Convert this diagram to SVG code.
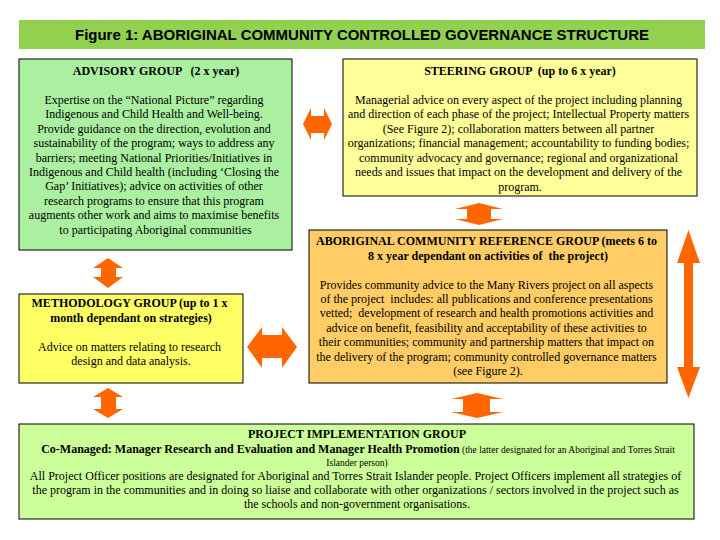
<svg xmlns="http://www.w3.org/2000/svg" width="720" height="540" viewBox="0 0 720 540">
<style>
.box{stroke:#000;stroke-width:1}
.t{font-family:"Liberation Serif","Times New Roman",serif;font-size:12px;fill:#000;text-anchor:middle}
.b{font-weight:bold}
.s{font-size:9.5px}
.arr{fill:#ff6600}
</style>
<rect width="720" height="540" fill="#fff"/>
<g id="title">
<rect x="19" y="20" width="686" height="29" fill="#92d050"/>
<text x="362" y="40" font-family="Liberation Sans, Arial, sans-serif" font-weight="bold" font-size="15" text-anchor="middle" textLength="574" lengthAdjust="spacingAndGlyphs">Figure 1: ABORIGINAL COMMUNITY CONTROLLED GOVERNANCE STRUCTURE</text>
</g>
<g id="advisory">
<rect class="box" x="19" y="59" width="273" height="191" fill="#aaf0a0"/>
<text class="t b" x="156" y="75" xml:space="preserve">ADVISORY GROUP   (2 x year)</text>
<text class="t">
<tspan x="155.5" y="104">Expertise on the “National Picture” regarding</tspan>
<tspan x="155.5" y="118">Indigenous and Child Health and Well-being.</tspan>
<tspan x="155.5" y="133">Provide guidance on the direction, evolution and</tspan>
<tspan x="155.5" y="147">sustainability of the program; ways to address any</tspan>
<tspan x="155.5" y="162">barriers; meeting National Priorities/Initiatives in</tspan>
<tspan x="155.5" y="176">Indigenous and Child health (including ‘Closing the</tspan>
<tspan x="155.5" y="190">Gap’ Initiatives); advice on activities of other</tspan>
<tspan x="155.5" y="205">research programs to ensure that this program</tspan>
<tspan x="155.5" y="219">augments other work and aims to maximise benefits</tspan>
<tspan x="155.5" y="234">to participating Aboriginal communities</tspan>
</text>
</g>
<g id="steering">
<rect class="box" x="343" y="59" width="354" height="137" fill="#ffff99"/>
<text class="t b" x="520" y="75" xml:space="preserve">STEERING GROUP  (up to 6 x year)</text>
<text class="t">
<tspan x="520" y="104">Managerial advice on every aspect of the project including planning</tspan>
<tspan x="520" y="118">and direction of each phase of the project; Intellectual Property matters</tspan>
<tspan x="520" y="133">(See Figure 2); collaboration matters between all partner</tspan>
<tspan x="520" y="147">organizations; financial management; accountability to funding bodies;</tspan>
<tspan x="520" y="162">community advocacy and governance; regional and organizational</tspan>
<tspan x="520" y="176">needs and issues that impact on the development and delivery of the</tspan>
<tspan x="520" y="191">program.</tspan>
</text>
</g>
<g id="reference">
<rect class="box" x="309" y="230" width="358" height="153" fill="#ffcc66"/>
<text class="t b">
<tspan x="488" y="245">ABORIGINAL COMMUNITY REFERENCE GROUP (meets 6 to</tspan>
<tspan x="488" y="260" xml:space="preserve">8 x year dependant on activities of  the project)</tspan>
</text>
<text class="t">
<tspan x="488" y="289">Provides community advice to the Many Rivers project on all aspects</tspan>
<tspan x="488" y="303" xml:space="preserve">of the project  includes: all publications and conference presentations</tspan>
<tspan x="488" y="317" xml:space="preserve">vetted;  development of research and health promotions activities and</tspan>
<tspan x="488" y="332">advice on benefit, feasibility and acceptability of these activities to</tspan>
<tspan x="488" y="346">their communities; community and partnership matters that impact on</tspan>
<tspan x="488" y="361">the delivery of the program; community controlled governance matters</tspan>
<tspan x="488" y="375">(see Figure 2).</tspan>
</text>
</g>
<g id="methodology">
<rect class="box" x="19" y="294" width="224" height="89" fill="#ffff66"/>
<text class="t b">
<tspan x="131" y="307">METHODOLOGY GROUP (up to 1 x</tspan>
<tspan x="131" y="322">month dependant on strategies)</tspan>
</text>
<text class="t">
<tspan x="131" y="351">Advice on matters relating to research</tspan>
<tspan x="131" y="365">design and data analysis.</tspan>
</text>
</g>
<g id="implementation">
<rect class="box" x="19" y="424" width="675" height="95" fill="#ccff99"/>
<text class="t b" x="357" y="438">PROJECT IMPLEMENTATION GROUP</text>
<text class="t" x="358" y="453"><tspan class="b">Co-Managed: Manager Research and Evaluation and Manager Health Promotion</tspan><tspan class="s"> (the latter designated for an Aboriginal and Torres Strait</tspan></text>
<text class="t s" x="357" y="466">Islander person)</text>
<text class="t">
<tspan x="357" y="480">All Project Officer positions are designated for Aboriginal and Torres Strait Islander people. Project Officers implement all strategies of</tspan>
<tspan x="357" y="494">the program in the communities and in doing so liaise and collaborate with other organizations / sectors involved in the project such as</tspan>
<tspan x="357" y="508">the schools and non-government organisations.</tspan>
</text>
</g>
<g id="connectors">
<polygon class="arr" points="303,124 311,108 311,116 324,116 324,108 332,124 324,140 324,133 311,133 311,140"/>
<polygon class="arr" points="247,347 262,327 262,335 282,335 282,327 297,347 282,368 282,358 262,358 262,368"/>
<polygon class="arr" points="108,258 123,268 116,268 116,277 123,277 108,288 93,277 101,277 101,268 93,268"/>
<polygon class="arr" points="108,388 123,397 116,397 116,409 123,409 108,418 93,409 101,409 101,397 93,397"/>
<polygon class="arr" points="479,203 503,209 491,209 491,219 503,219 479,225 455,219 467,219 467,209 455,209"/>
<polygon class="arr" points="477,393 503,399 490,399 490,412 503,412 477,418 451,412 463,412 463,399 451,399"/>
<polygon class="arr" points="688.5,230 700,263 693,263 693,367 700,367 688.5,398 677,367 684,367 684,263 677,263"/>
</g>
</svg>
